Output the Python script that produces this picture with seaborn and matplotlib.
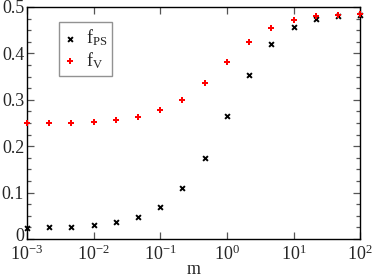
import numpy as np
import pandas as pd
import matplotlib
matplotlib.use("Agg")
import matplotlib.pyplot as plt
import matplotlib.transforms as mtransforms
import seaborn as sns
from matplotlib.ticker import LogLocator, MultipleLocator, FixedLocator, FuncFormatter

# data (m spaced 1/3 decade)
m = [1e-3, 2.15e-3, 4.64e-3, 1e-2, 2.15e-2, 4.64e-2, 1e-1, 2.15e-1,
     4.64e-1, 1.0, 2.15, 4.64, 10.0, 21.5, 46.4, 100.0]
f_ps = [0.024, 0.025, 0.027, 0.030, 0.036, 0.047, 0.070, 0.110,
        0.175, 0.264, 0.354, 0.421, 0.457, 0.473, 0.481, 0.483]
f_v = [0.249, 0.249, 0.251, 0.252, 0.256, 0.263, 0.277, 0.300,
       0.336, 0.381, 0.424, 0.455, 0.472, 0.480, 0.482, 0.484]

sns.set_style("ticks")
plt.rcParams['font.family'] = ['Liberation Serif', 'DejaVu Serif']
plt.rcParams['mathtext.fontset'] = 'custom'
plt.rcParams['mathtext.rm'] = 'Liberation Serif'
plt.rcParams['mathtext.it'] = 'Liberation Serif'

df = pd.DataFrame({'m': m, 'fps': f_ps, 'fv': f_v})

fig = plt.figure(figsize=(3.74, 2.77), dpi=100)
ax = fig.add_axes([0.072, 0.137, 0.891, 0.838])

sns.scatterplot(data=df, x='m', y='fps', ax=ax, marker='x', color='black',
                s=12, linewidth=1.4, label=r'f$_{\rm PS}$', zorder=3, clip_on=False)
sns.scatterplot(data=df, x='m', y='fv', ax=ax, marker='P', color='red',
                s=20, linewidth=0, label=r'f$_{\rm V}$', zorder=3, clip_on=False)

ax.set_xscale('log')
ax.set_xlim(1e-3, 1e2)
ax.set_ylim(0, 0.5)
ax.xaxis.set_major_locator(LogLocator(base=10, numticks=10))
ax.xaxis.set_minor_locator(FixedLocator([]))
ax.yaxis.set_major_locator(MultipleLocator(0.1))
ax.yaxis.set_minor_locator(MultipleLocator(0.025))
ax.yaxis.set_major_formatter(FuncFormatter(lambda v, p: '0' if abs(v) < 1e-9 else f'{v:.1f}'))

ax.tick_params(which='both', direction='in', top=True, right=True, labelsize=13)
ax.tick_params(axis='y', pad=2)
ax.tick_params(axis='x', pad=4)
ax.tick_params(which='major', length=5, width=0.9, color='#555555')
ax.tick_params(which='minor', length=3, width=0.9, color='#555555')
for s in ax.spines.values():
    s.set_linewidth(1.0)
    s.set_color('black')

# nudge the "0" label up a touch so it does not collide with 10^-3
fig.canvas.draw()
for lab in ax.get_yticklabels():
    if lab.get_text() == '0':
        lab.set_verticalalignment('bottom')
        lab.set_transform(lab.get_transform() + mtransforms.ScaledTranslation(0, -6 / 100, fig.dpi_scale_trans))

ax.set_xlabel('m', fontsize=13, labelpad=-2)
ax.set_ylabel('')

leg = ax.legend(loc='upper left', bbox_to_anchor=(0.095, 0.935), fontsize=13,
                frameon=True, fancybox=False, handlelength=0.7, handletextpad=0.5,
                borderpad=0.3, labelspacing=0.1, borderaxespad=0)
leg.get_frame().set_edgecolor('#777777')
leg.get_frame().set_linewidth(1.0)

fig.savefig('out.png', dpi=100)
